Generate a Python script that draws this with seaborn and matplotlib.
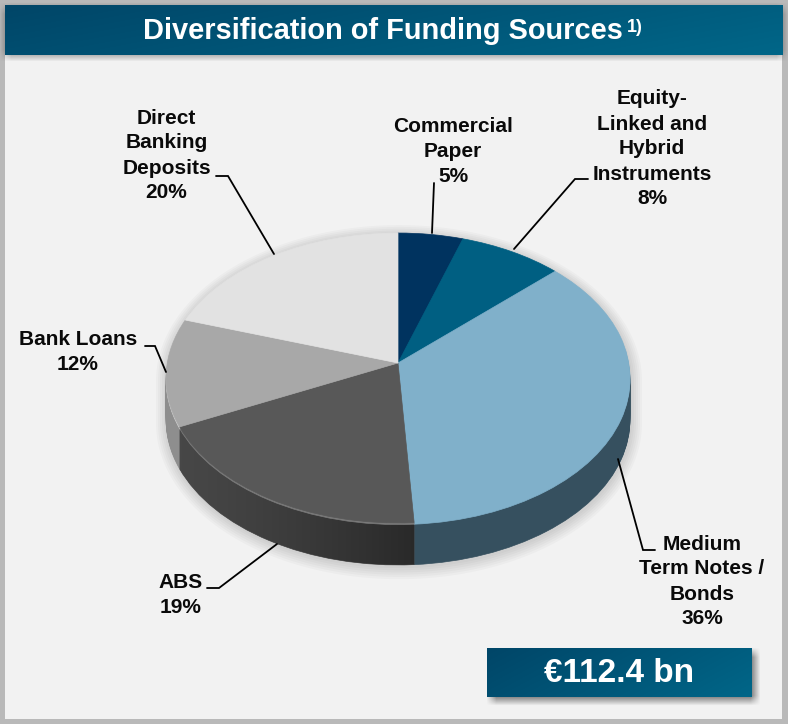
import numpy as np
import matplotlib
matplotlib.use("Agg")
import matplotlib.pyplot as plt
from matplotlib.patches import Polygon, Rectangle
from matplotlib.transforms import Transform
import seaborn as sns

# Funding mix, clockwise from twelve o'clock
funding_names = ["Commercial\nPaper", "Equity-\nLinked and\nHybrid\nInstruments",
                 "Medium\nTerm Notes /\nBonds", "ABS", "Bank Loans",
                 "Direct\nBanking\nDeposits"]
funding_shares = [5, 8, 36, 19, 12, 20]
total_label = "€112.4 bn"
title_text = "Diversification of Funding Sources"
title_note = "1)"

top_colors = ["#00335f", "#005f82", "#80b0ca", "#585858", "#a8a8a8", "#e2e2e2"]
rim_colors = ["#00335f", "#005f82", "#80b0ca", "#7a7a7a", "#cfcfcf", "#e2e2e2"]
side_colors = ["#00233f", "#003f57", "#36505f", "#474747", "#8e8e8e", "#9a9a9a"]

W, H = 788, 724
CX, CY = 398.0, 363.0      # apex of the pie
RX, RY, TILT = 230.7, 143.4, 0.1034
DEPTH = 42

sns.set_theme(style="white")
plt.rcParams["font.family"] = ["Liberation Sans", "DejaVu Sans"]
plt.rcParams["font.weight"] = "bold"


class TiltedDisc(Transform):
    """Projects the unit disc of a pie onto a receding plane, in pixel units."""
    input_dims = output_dims = 2
    has_inverse = False
    is_affine = False

    def __init__(self, drop=0.0):
        super().__init__()
        self.drop = drop

    def transform_non_affine(self, values):
        x, y = np.asarray(values).T
        w = 1 + TILT * y
        return np.column_stack((CX + RX * x / w, CY + self.drop - RY * y / w))


def pie_outline(depth, grow=0.0, shift=(0.0, 0.0), n=360):
    """Silhouette of the disc extruded downward by depth pixels."""
    t = np.linspace(-np.pi / 2, 3 * np.pi / 2, n)
    x, y = np.cos(t), np.sin(t)
    w = 1 + TILT * y
    px = CX + (RX + grow) * x / w + shift[0]
    py = CY - (RY + grow) * y / w + shift[1]
    py = py + np.where(y < -TILT, depth, 0.0)
    return np.column_stack((px, py))


def soft_box(ax, x0, y0, x1, y1, blur, strength, zorder):
    """Blurred drop shadow of a rectangle."""
    xs = np.arange(x0 - 2 * blur, x1 + 2 * blur)
    ys = np.arange(y0 - 2 * blur, y1 + 2 * blur)
    ramp = lambda v, a, b: (np.clip((v - a + blur) / (2 * blur), 0, 1)
                            * np.clip((b - v + blur) / (2 * blur), 0, 1))
    alpha = np.outer(ramp(ys, y0, y1), ramp(xs, x0, x1)) * strength
    rgba = np.zeros(alpha.shape + (4,))
    rgba[..., :3] = 0.15
    rgba[..., 3] = alpha
    ax.imshow(rgba, extent=(xs[0], xs[-1], ys[-1], ys[0]), aspect="auto",
              zorder=zorder, interpolation="bilinear")


def teal_box(ax, x0, y0, x1, y1, zorder):
    """Rectangle with the dark-to-light teal banner gradient."""
    h = np.linspace(0, 1, 64)
    v = np.linspace(0, 1, 32)
    mix = 0.75 * h[None, :] + 0.25 * v[:, None]
    dark, light = np.array([0, 70, 104]) / 255, np.array([0, 102, 136]) / 255
    rgb = dark + (light - dark) * mix[..., None]
    ax.imshow(rgb, extent=(x0, x1, y1, y0), aspect="auto", zorder=zorder,
              interpolation="bilinear")


fig = plt.figure(figsize=(W / 100, H / 100), dpi=100, facecolor="#b9b9b9")
ax = fig.add_axes([0, 0, 1, 1])
ax.add_patch(Rectangle((5, 5), 777, 714, facecolor="#f2f2f2", edgecolor="none", zorder=0))

# Ground shadow under the pie
for grow in (11, 9, 7, 5, 3, 1):
    ax.add_patch(Polygon(pie_outline(DEPTH, grow, (1, 2)), closed=True,
                         facecolor="black", edgecolor="none", alpha=0.022, zorder=1))

style = dict(startangle=90, counterclock=False, radius=1, center=(0, 0))


def pie_layer(colors, drop, zorder):
    wedges, _ = ax.pie(funding_shares, colors=sns.color_palette(colors), **style)
    for wedge in wedges:
        wedge.set_transform(TiltedDisc(drop) + ax.transData)
        wedge.set_edgecolor(wedge.get_facecolor())
        wedge.set_linewidth(0.5)
        wedge.set_zorder(zorder)


# Extruded wall, deepest layer first
for d in range(DEPTH, 2, -1):
    pie_layer(side_colors, d, 2 + (DEPTH - d) * 0.001)

# Wall shading that darkens toward the front edge of the ABS slice
abs_end = np.deg2rad(sum(funding_shares[:3]) * 3.6)
abs_end_x = TiltedDisc().transform_non_affine(
    np.array([[np.sin(abs_end), np.cos(abs_end)]]))[0, 0]
wall_x = np.linspace(167, 630, 800)
shade = np.zeros((1, wall_x.size, 4))
shade[..., 3] = 0.42 * np.clip((wall_x - 175) / (abs_end_x - 175), 0, 1) ** 1.3 * (wall_x < abs_end_x)
wall = Polygon(pie_outline(DEPTH), closed=True, transform=ax.transData)
image = ax.imshow(shade, extent=(167, 630, 600, 300), aspect="auto", zorder=2.5)
image.set_clip_path(wall)

# Pale rim, then the top face
pie_layer(rim_colors, 1.6, 2.6)
pie_layer(top_colors, 0, 3)

# Header band and total badge
soft_box(ax, 5, 8, 783, 56, 6, 0.55, 1.5)
teal_box(ax, 5, 5, 783, 55, 4)
soft_box(ax, 491, 652, 756, 701, 5, 0.6, 1.5)
teal_box(ax, 487, 648, 752, 697, 4)

ax.text(383, 31, title_text, color="white", fontsize=20.9, ha="center", va="center", zorder=5)
ax.text(635, 27, title_note, color="white", fontsize=13, ha="center", va="center", zorder=5)
ax.text(619, 674, total_label, color="white", fontsize=24, ha="center", va="center", zorder=5)

# Slice captions with their elbow leaders, in slice order
caption_xy = [(453, 151.5), (652, 149), (702, 581.5), (181, 595), (78, 352), (166.5, 155.5)]
leaders = [
    [(434, 183), (432, 233)],
    [(588, 179), (575, 179), (514, 249)],
    [(655, 550), (643, 550), (618, 459)],
    [(207, 588), (219, 588), (277, 544)],
    [(145, 346), (155, 346), (166, 372)],
    [(216, 176), (228, 176), (274, 254)],
]
for name, share, xy, path in zip(funding_names, funding_shares, caption_xy, leaders):
    ax.text(*xy, f"{name}\n{share}%", color="#0a0a0a", fontsize=15, ha="center",
            va="center", linespacing=1.4, zorder=5)
    xs, ys = zip(*path)
    ax.plot(xs, ys, color="black", lw=1.3, solid_joinstyle="miter", zorder=4)

ax.set_aspect("auto")
ax.set_xlim(0, W)
ax.set_ylim(H, 0)
ax.set_axis_off()

fig.savefig("out.png", dpi=100, facecolor=fig.get_facecolor())
